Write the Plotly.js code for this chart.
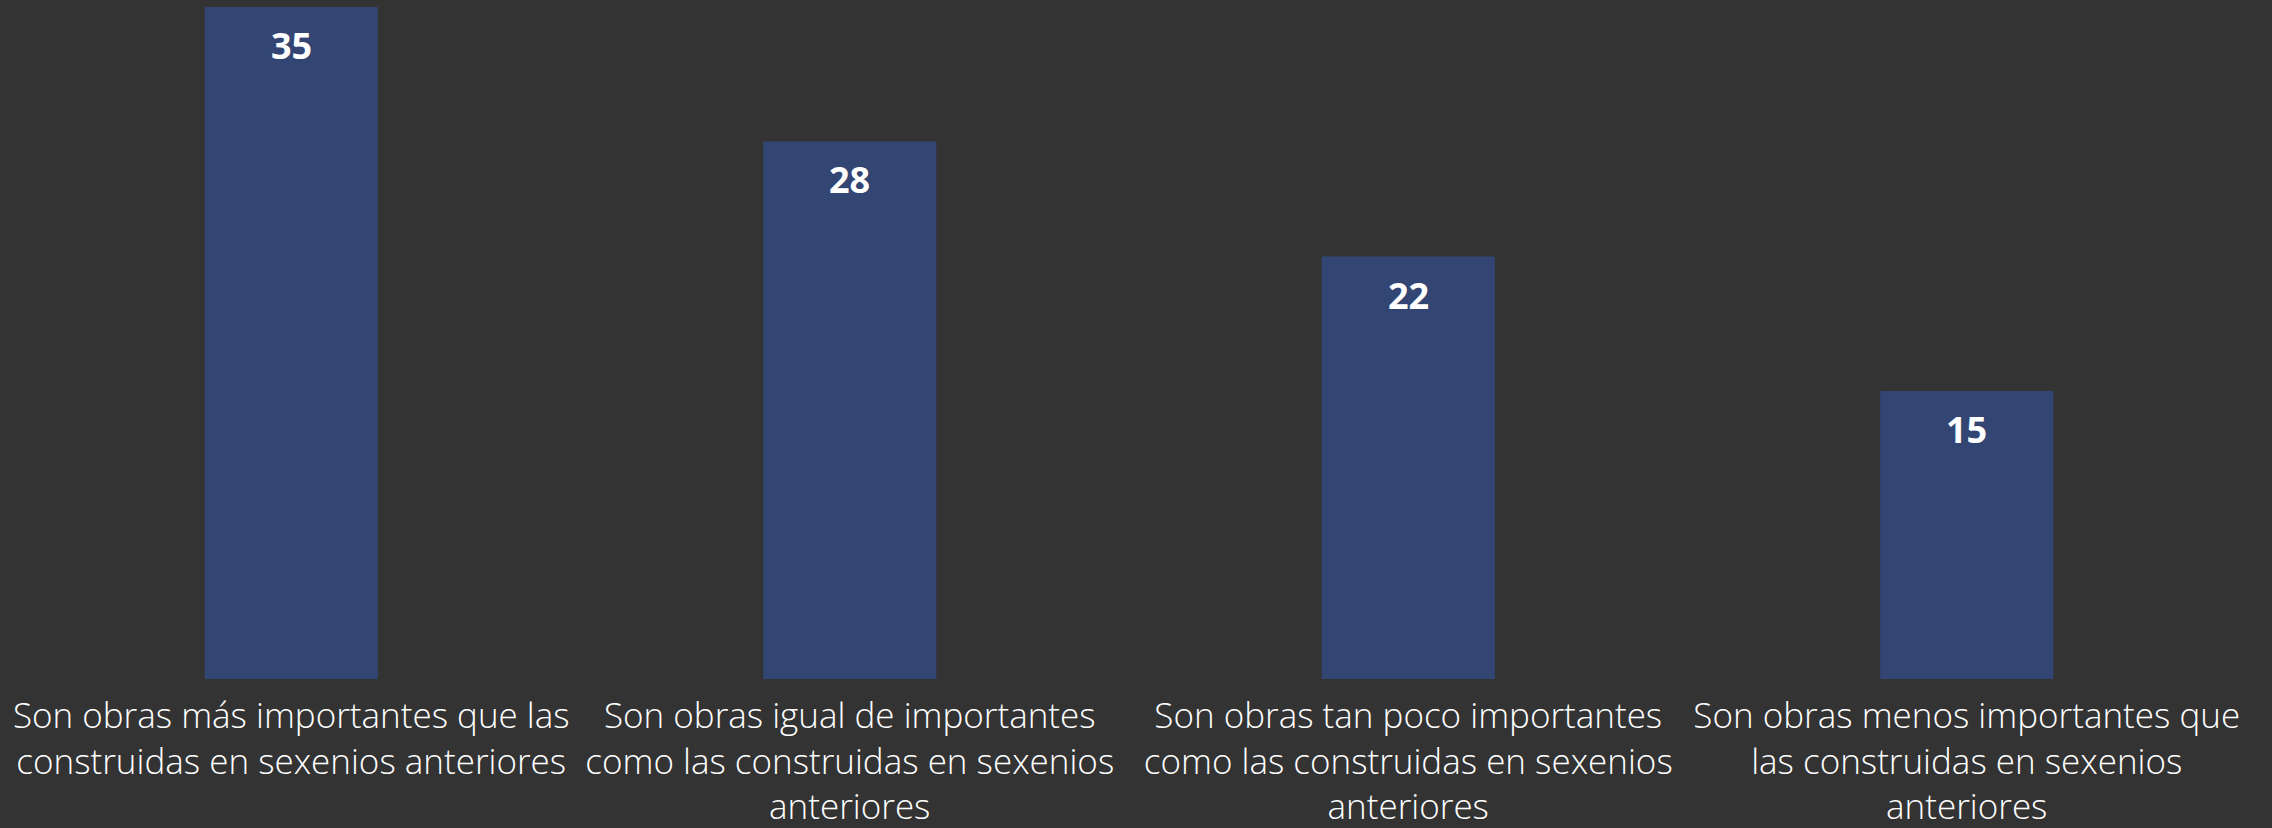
<!DOCTYPE html>
<html>
<head>
<meta charset="utf-8">
<script src="https://cdn.plot.ly/plotly-3.0.1.min.js"></script>
<style>html,body{margin:0;padding:0;background:#333333;}#chart{width:2272px;height:828px;}</style>
</head>
<body>
<div id="chart"></div>
<script>
const categories = [
  "Son obras más importantes que las<br>construidas en sexenios anteriores",
  "Son obras igual de importantes<br>como las construidas en sexenios<br>anteriores",
  "Son obras tan poco importantes<br>como las construidas en sexenios<br>anteriores",
  "Son obras menos importantes que<br>las construidas en sexenios<br>anteriores"
];
const values = [35, 28, 22, 15];
const valueLabels = ["35", "28", "22", "15"];

const FONT = "'Open Sans', Lato, sans-serif";

const trace = {
  type: 'bar',
  x: categories,
  y: values,
  marker: {color: '#334673'},
  hoverinfo: 'none'
};

const annotations = categories.map((c, i) => ({
  x: c, y: values[i], xref: 'x', yref: 'y',
  text: '<b>' + valueLabels[i] + '</b>',
  showarrow: false, yanchor: 'top', yshift: -12,
  font: {family: FONT, size: 36, color: '#ffffff'}
}));

const layout = {
  width: 2272, height: 828,
  paper_bgcolor: '#333333', plot_bgcolor: '#333333',
  margin: {l: 12, r: 26, t: 7, b: 149},
  bargap: 0.69,
  showlegend: false,
  xaxis: {
    automargin: false,
    showgrid: false, zeroline: false, showline: false, ticks: '',
    tickfont: {family: FONT, size: 35, color: '#ffffff', weight: 300},
    ticklabelstandoff: 13
  },
  yaxis: {
    automargin: false,
    range: [0, 35], showgrid: false, zeroline: false, showline: false,
    showticklabels: false, ticks: ''
  },
  annotations: annotations
};

Plotly.newPlot('chart', [trace], layout, {displayModeBar: false, staticPlot: true});
</script>
</body>
</html>
